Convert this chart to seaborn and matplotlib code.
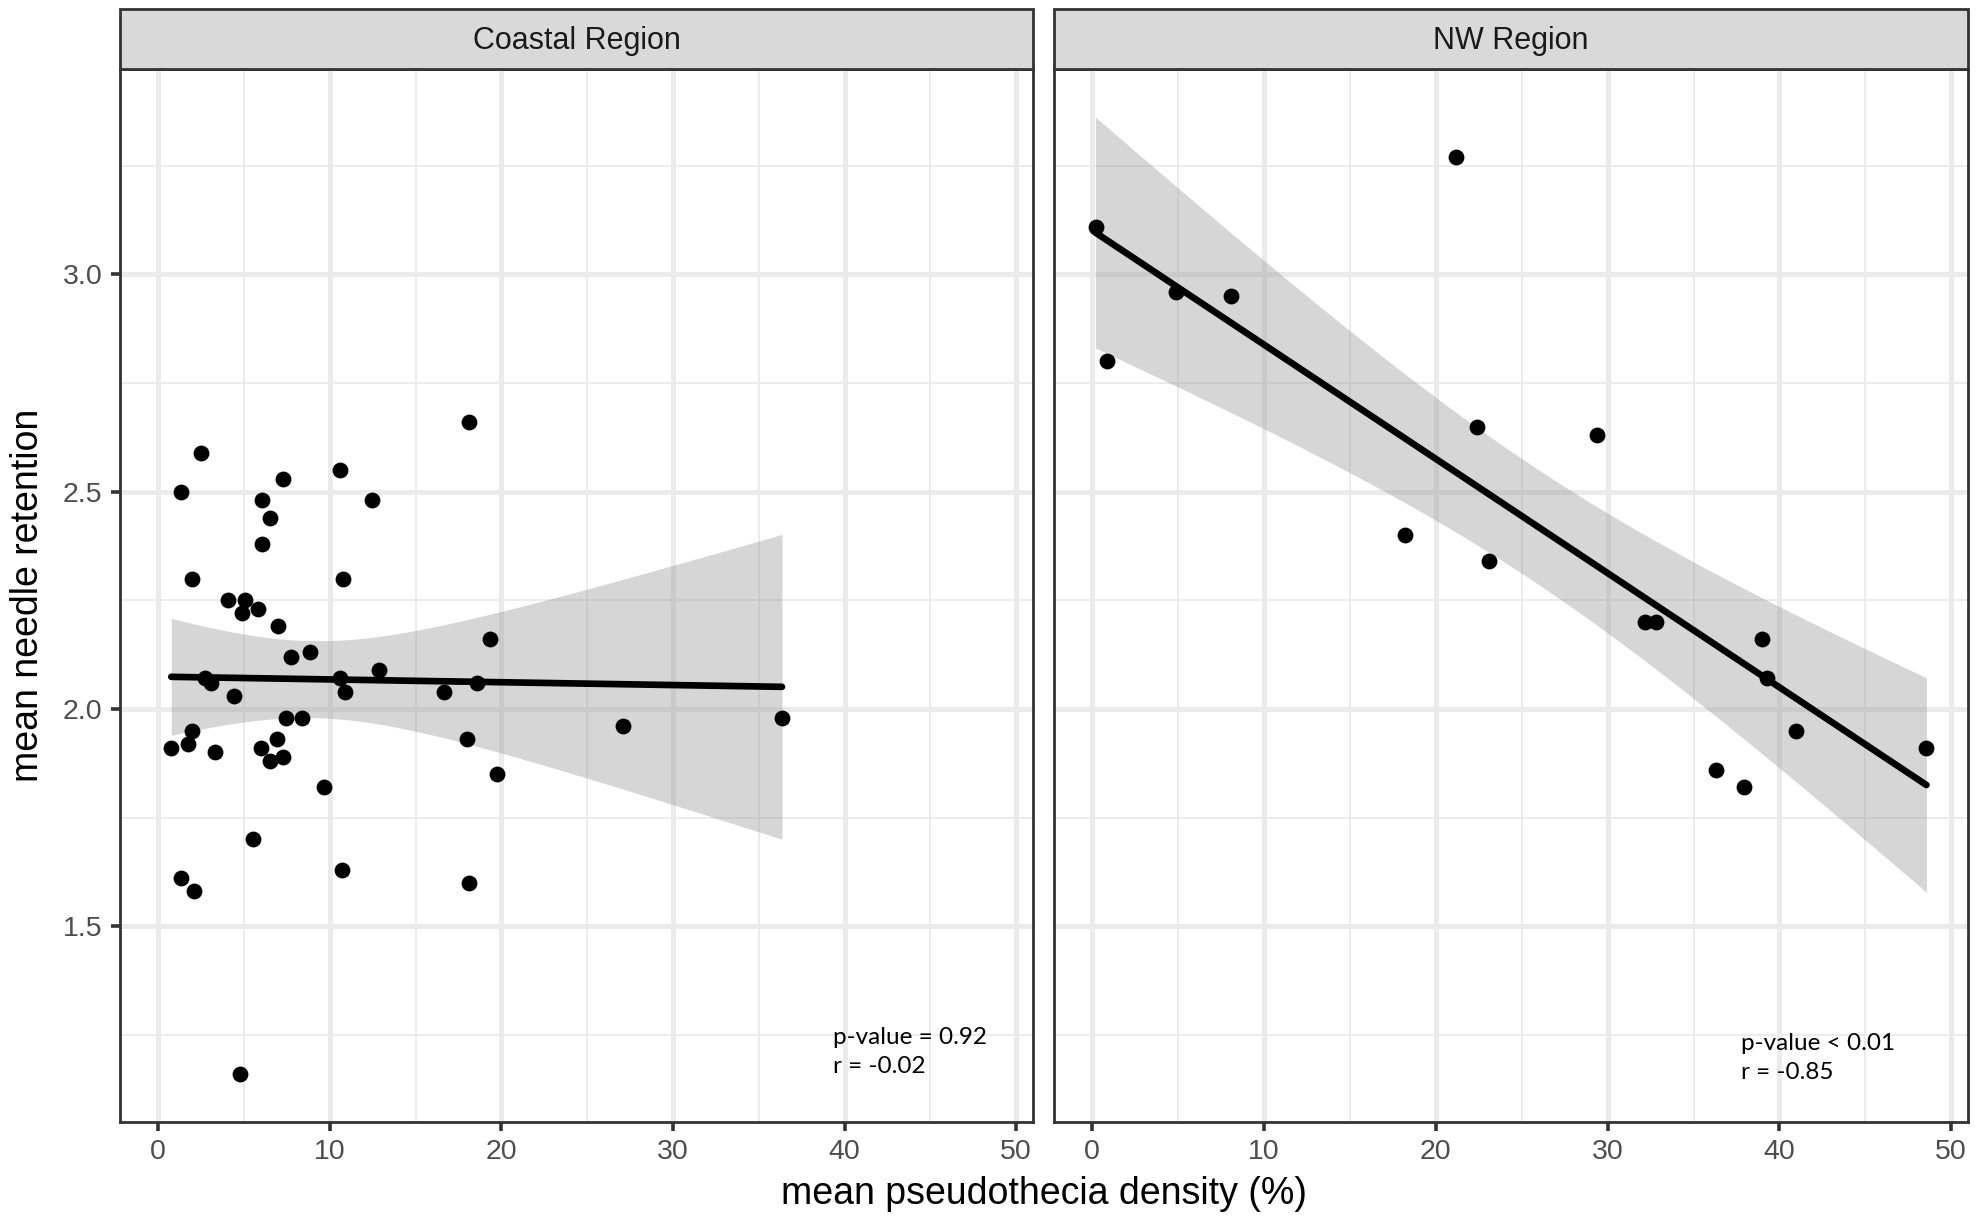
import numpy as np
import pandas as pd
import matplotlib
matplotlib.use("Agg")
import matplotlib.pyplot as plt
from matplotlib.patches import Rectangle
from matplotlib.ticker import MultipleLocator
import seaborn as sns

# ---------------- data ----------------
regions = ["Coastal Region", "NW Region"]

coastal_density = [0.76, 1.32, 1.34, 1.71, 1.96, 1.96, 2.06, 2.47, 2.72, 3.05,
                   3.32, 4.06, 4.41, 4.78, 4.89, 5.05, 5.50, 5.83, 5.98, 6.04,
                   6.04, 6.50, 6.52, 6.93, 6.99, 7.28, 7.28, 7.44, 7.71, 8.39,
                   8.85, 9.65, 10.58, 10.60, 10.68, 10.78, 10.87, 12.47, 12.87, 16.66,
                   18.00, 18.10, 18.10, 18.58, 19.33, 19.75, 27.10, 36.35]
coastal_retention = [1.91, 2.50, 1.61, 1.92, 2.30, 1.95, 1.58, 2.59, 2.07, 2.06,
                     1.90, 2.25, 2.03, 1.16, 2.22, 2.25, 1.70, 2.23, 1.91, 2.48,
                     2.38, 1.88, 2.44, 1.93, 2.19, 2.53, 1.89, 1.98, 2.12, 1.98,
                     2.13, 1.82, 2.07, 2.55, 1.63, 2.30, 2.04, 2.48, 2.09, 2.04,
                     1.93, 2.66, 1.60, 2.06, 2.16, 1.85, 1.96, 1.98]

nw_density = [0.19, 0.84, 4.87, 8.09, 18.19, 21.17, 22.40, 23.12, 29.40,
              32.16, 32.80, 36.28, 37.96, 38.99, 39.27, 40.94, 48.56]
nw_retention = [3.11, 2.80, 2.96, 2.95, 2.40, 3.27, 2.65, 2.34, 2.63,
                2.20, 2.20, 1.86, 1.82, 2.16, 2.07, 1.95, 1.91]

annotations = ["p-value = 0.92\nr = -0.02", "p-value < 0.01\nr = -0.85"]
annot_pos = [(39.35, 1.211), (37.78, 1.196)]

x_ticks = [0, 10, 20, 30, 40, 50]
y_ticks = [1.5, 2.0, 2.5, 3.0]

x_title = "mean pseudothecia density (%)"
y_title = "mean needle retention"

df = pd.DataFrame({
    "region": [regions[0]] * len(coastal_density) + [regions[1]] * len(nw_density),
    "density": coastal_density + nw_density,
    "retention": coastal_retention + nw_retention,
})

# ---------------- style ----------------
sns.set_style("white")
plt.rcParams["font.family"] = ["Liberation Sans", "DejaVu Sans"]

GRID = "#EBEBEB"
DARK = "#333333"


def t975(dof):
    z = 1.959964
    return (z + (z**3 + z) / (4 * dof)
            + (5 * z**5 + 16 * z**3 + 3 * z) / (96 * dof**2))


def ci_band(x, y, n_grid=100):
    x = np.asarray(x, float)
    y = np.asarray(y, float)
    n = len(x)
    b1, b0 = np.polyfit(x, y, 1)
    resid = y - (b0 + b1 * x)
    s = np.sqrt(np.sum(resid**2) / (n - 2))
    sxx = np.sum((x - x.mean())**2)
    xg = np.linspace(x.min(), x.max(), n_grid)
    yh = b0 + b1 * xg
    se = s * np.sqrt(1.0 / n + (xg - x.mean())**2 / sxx)
    t = t975(n - 2)
    return xg, yh - t * se, yh + t * se


fig = plt.figure(figsize=(19.77, 12.17), dpi=100)
W, H = 1977, 1217
panel_top, panel_bot = 69.3, 1121.7
ax_h = (panel_bot - panel_top) / H
ax_b = 1 - panel_bot / H
ax1 = fig.add_axes([120 / W, ax_b, 913 / W, ax_h])
ax2 = fig.add_axes([1054 / W, ax_b, 914 / W, ax_h])
axes = [ax1, ax2]

# limits derived from data (ggplot-like 5% expansion)
all_x = np.asarray(df["density"])
xr = all_x.max() - all_x.min()
xlim = (all_x.min() - 0.05 * xr, all_x.max() + 0.05 * xr)

bands = {}
ylo, yhi = df["retention"].min(), df["retention"].max()
for reg in regions:
    sub = df[df["region"] == reg]
    xg, lo, hi = ci_band(sub["density"], sub["retention"])
    bands[reg] = (xg, lo, hi)
    ylo = min(ylo, lo.min())
    yhi = max(yhi, hi.max())
yr = yhi - ylo
ylim = (ylo - 0.05 * yr, yhi + 0.05 * yr)

strip_h = (panel_top - 9.3) / (panel_bot - panel_top)

for i, (ax, reg) in enumerate(zip(axes, regions)):
    sub = df[df["region"] == reg]
    xg, lo, hi = bands[reg]
    ax.fill_between(xg, lo, hi, color="#999999", alpha=0.4, linewidth=0, zorder=2)
    sns.regplot(data=sub, x="density", y="retention", ax=ax, ci=None, truncate=True,
                scatter_kws={"s": 130, "color": "black", "linewidths": 0, "alpha": 1, "zorder": 3},
                line_kws={"color": "black", "lw": 4.8, "zorder": 4})

    ax.set_xlim(*xlim)
    ax.set_ylim(*ylim)
    ax.set_xticks(x_ticks)
    ax.set_yticks(y_ticks)
    ax.xaxis.set_minor_locator(MultipleLocator(5))
    ax.yaxis.set_minor_locator(MultipleLocator(0.25))
    ax.grid(which="major", color=GRID, linewidth=3.6, zorder=0)
    ax.grid(which="minor", color=GRID, linewidth=1.3, zorder=0)
    ax.set_axisbelow(True)
    ax.set_xlabel("")
    ax.set_ylabel("")
    for sp in ax.spines.values():
        sp.set_visible(True)
        sp.set_color(DARK)
        sp.set_linewidth(2.0)
    ax.tick_params(axis="both", which="major", length=6.5, width=2.6, color=DARK,
                   labelsize=20.5, labelcolor="#4D4D4D", pad=6,
                   bottom=True, left=True)
    ax.tick_params(axis="both", which="minor", length=0)
    ax.set_yticklabels([f"{v:.1f}" for v in y_ticks])
    if i == 1:
        ax.tick_params(axis="y", which="major", left=False, labelleft=False)

    # facet strip
    ax.add_patch(Rectangle((0, 1), 1, strip_h, transform=ax.transAxes, clip_on=False,
                           facecolor="#D9D9D9", edgecolor=DARK, linewidth=2.0, zorder=5))
    ax.text(0.5, 1 + strip_h / 2 - 0.002, reg, transform=ax.transAxes, ha="center", va="center",
            fontsize=22, color="#1A1A1A", zorder=6)

    # annotation
    ax.text(annot_pos[i][0], annot_pos[i][1], annotations[i], ha="left", va="center",
            fontsize=17.5, family=["Lato", "DejaVu Sans"], color="black",
            linespacing=1.45, zorder=6)

fig.text(1044 / W, 1 - 1194 / H, x_title, ha="center", va="center", fontsize=27, color="black")
fig.text(28 / W, 1 - 595.5 / H, y_title, ha="center", va="center", rotation=90,
         fontsize=27, color="black")

fig.savefig("out.png", dpi=100, facecolor="white")
